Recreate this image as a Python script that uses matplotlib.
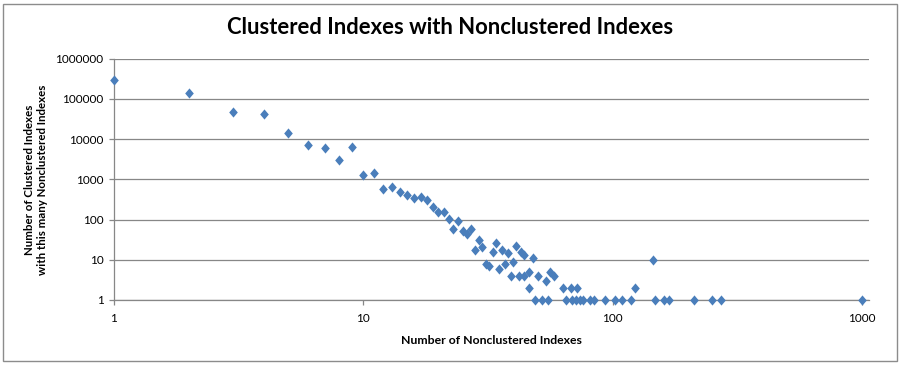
import numpy as np
import matplotlib
matplotlib.use("Agg")
import matplotlib.pyplot as plt
from matplotlib.path import Path
from matplotlib.patches import Rectangle
from matplotlib.ticker import FixedLocator, FixedFormatter, NullLocator

plt.rcParams['font.family'] = ['Lato', 'DejaVu Sans']

# number of nonclustered indexes on a table / how many clustered indexes have that many
nc_count = [1, 2, 3, 4, 5, 6, 7, 8, 9, 10, 11, 12, 13, 14, 15, 16, 17, 18, 19, 20,
            21, 22, 23, 24, 25, 26, 27, 28, 29, 30, 31, 32, 33, 34, 35, 36, 37, 38,
            39, 40, 41, 42, 43, 44, 44, 46, 46, 48, 49, 50, 52, 54, 55, 56, 58, 63,
            65, 68, 69, 71, 72, 74, 76, 81, 84, 93, 102, 109, 119, 123, 145, 148,
            161, 169, 212, 250, 271, 1000]
ci_count = [300000, 138000, 48000, 43000, 14500, 7000, 6100, 3100, 6300, 1300, 1400,
            590, 630, 480, 410, 340, 365, 305, 210, 157, 152, 103, 58, 92, 52, 43, 57,
            18, 31, 21, 8, 7, 16, 26, 6, 18, 8, 15, 4, 9, 22, 4, 16, 13, 4, 5, 2, 11,
            1, 4, 1, 3, 1, 5, 4, 2, 1, 2, 1, 1, 2, 1, 1, 1, 1, 1, 1, 1, 1, 2, 10, 1,
            1, 1, 1, 1, 1, 1]

x_ticks = [1, 10, 100, 1000]
y_ticks = [1, 10, 100, 1000, 10000, 100000, 1000000]

W, H = 901, 365
fig = plt.figure(figsize=(W / 100, H / 100), dpi=100)
ax = fig.add_axes([114 / W, (H - 300) / H, (869 - 114) / W, (300 - 58.7) / H])

# Excel style diamond, a bit taller than wide
diamond = Path([(0, 1), (0.85, 0), (0, -1), (-0.85, 0), (0, 1)],
               [Path.MOVETO, Path.LINETO, Path.LINETO, Path.LINETO, Path.CLOSEPOLY])
ax.plot(nc_count, ci_count, linestyle='none', marker=diamond, markersize=7.3,
        color='#4a7ebb', markeredgewidth=0, zorder=3, clip_on=False)

ax.set_xscale('log')
ax.set_yscale('log')
ax.set_xlim(1, 10 ** ((869 - 114) / 249.3))
ax.set_ylim(1, 1e6)

ax.xaxis.set_major_locator(FixedLocator(x_ticks))
ax.xaxis.set_major_formatter(FixedFormatter([str(v) for v in x_ticks]))
ax.yaxis.set_major_locator(FixedLocator(y_ticks))
ax.yaxis.set_major_formatter(FixedFormatter([str(v) for v in y_ticks]))
ax.xaxis.set_minor_locator(NullLocator())
ax.yaxis.set_minor_locator(NullLocator())

ax.grid(True, axis='y', color='#878787', linewidth=0.9)
ax.set_axisbelow(True)
for s in ['top', 'right']:
    ax.spines[s].set_visible(False)
for s in ['left', 'bottom']:
    ax.spines[s].set_color('#878787')
    ax.spines[s].set_linewidth(0.9)
ax.tick_params(axis='both', direction='out', length=3.5, width=0.9, color='#878787',
               labelsize=8.5, labelcolor='black')
ax.tick_params(axis='y', pad=4)
ax.tick_params(axis='x', pad=6)

ax.set_xlabel("Number of Nonclustered Indexes", fontsize=8.8, fontweight='bold', labelpad=8)
fig.text(36 / W, 1 - 180 / H, "Number of Clustered Indexes\nwith this many Nonclustered Indexes",
         rotation=90, ha='center', va='center', fontsize=8.3, fontweight='bold',
         multialignment='center', linespacing=1.2)

fig.text(450 / W, 1 - 28 / H, "Clustered Indexes with Nonclustered Indexes",
         ha='center', va='center', fontsize=15.8, fontweight='bold')

fig.patches.append(Rectangle((3 / W, 4 / H), (W - 7) / W, (H - 8) / H,
                             transform=fig.transFigure, fill=False,
                             edgecolor='#8c8c8c', linewidth=1))

fig.savefig("out.png", dpi=100)
